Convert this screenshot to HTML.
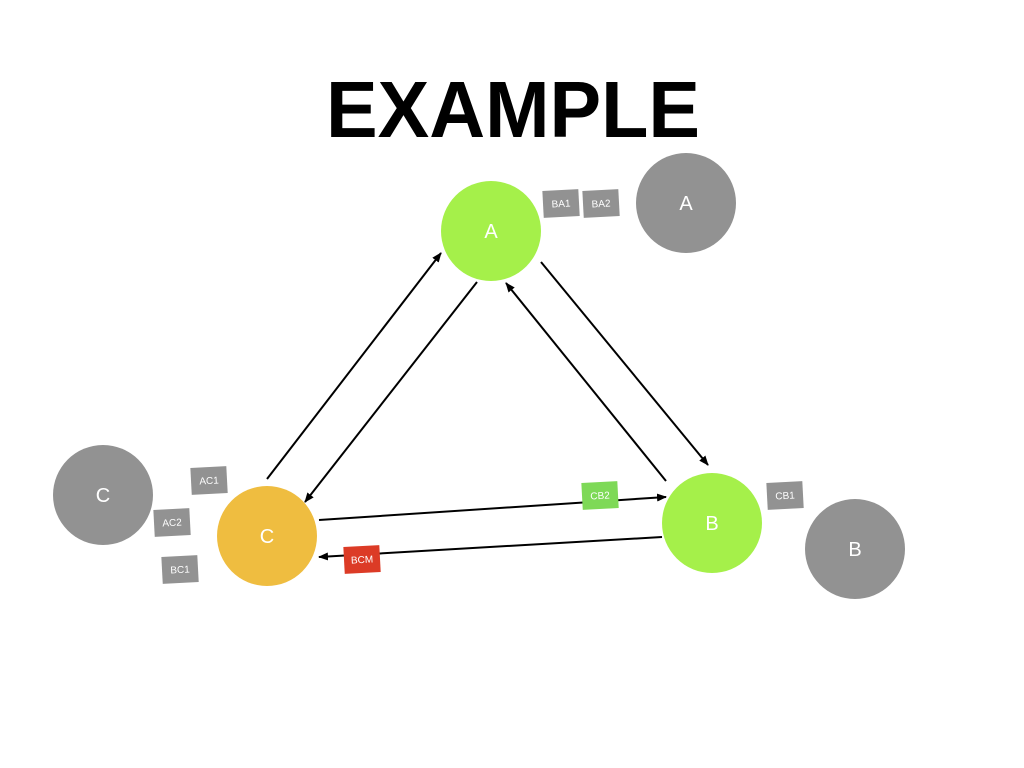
<!DOCTYPE html>
<html><head><meta charset="utf-8"><style>
html,body{margin:0;padding:0;background:#fff;}
svg{display:block;font-family:"Liberation Sans",Arial,sans-serif;}
</style></head><body>
<svg width="1024" height="768" viewBox="0 0 1024 768" xmlns="http://www.w3.org/2000/svg">
<defs><marker id="ah" markerWidth="10" markerHeight="8" refX="9" refY="4" orient="auto" markerUnits="userSpaceOnUse"><path d="M0,0 L10,4 L0,8 z" fill="#000"/></marker></defs>
<text x="513" y="137" text-anchor="middle" font-size="80" font-weight="bold" fill="#000" textLength="374" lengthAdjust="spacingAndGlyphs">EXAMPLE</text>
<g stroke="#000" stroke-width="2" marker-end="url(#ah)">
<line x1="267" y1="479" x2="441" y2="253"/>
<line x1="477" y1="282" x2="305" y2="502"/>
<line x1="541" y1="262" x2="708" y2="465"/>
<line x1="666" y1="481" x2="506" y2="283"/>
<line x1="319" y1="520" x2="666" y2="497"/>
<line x1="662" y1="537" x2="319" y2="557"/>
</g>
<g fill="#fff" text-anchor="middle" font-size="20">
<circle cx="491" cy="231" r="50" fill="#a5f04a"/><text x="491" y="238">A</text>
<circle cx="712" cy="523" r="50" fill="#a5f04a"/><text x="712" y="530">B</text>
<circle cx="267" cy="536" r="50" fill="#efbd40"/><text x="267" y="543">C</text>
<circle cx="686" cy="203" r="50" fill="#929292"/><text x="686" y="210">A</text>
<circle cx="855" cy="549" r="50" fill="#929292"/><text x="855" y="556">B</text>
<circle cx="103" cy="495" r="50" fill="#929292"/><text x="103" y="502">C</text>
</g>
<g font-size="10" fill="#fff" text-anchor="middle">
<g transform="translate(561,203) rotate(-3)"><rect x="-18" y="-13" width="36" height="27" fill="#929292"/><text y="4">BA1</text></g>
<g transform="translate(601,203) rotate(-3)"><rect x="-18" y="-13" width="36" height="27" fill="#929292"/><text y="4">BA2</text></g>
<g transform="translate(209,480) rotate(-3)"><rect x="-18" y="-13" width="36" height="27" fill="#929292"/><text y="4">AC1</text></g>
<g transform="translate(172,522) rotate(-3)"><rect x="-18" y="-13" width="36" height="27" fill="#929292"/><text y="4">AC2</text></g>
<g transform="translate(180,569) rotate(-3)"><rect x="-18" y="-13" width="36" height="27" fill="#929292"/><text y="4">BC1</text></g>
<g transform="translate(785,495) rotate(-3)"><rect x="-18" y="-13" width="36" height="27" fill="#929292"/><text y="4">CB1</text></g>
<g transform="translate(600,495) rotate(-3)"><rect x="-18" y="-13" width="36" height="27" fill="#7ed957"/><text y="4">CB2</text></g>
<g transform="translate(362,559) rotate(-3)"><rect x="-18" y="-13" width="36" height="27" fill="#dc3b26"/><text y="4">BCM</text></g>
</g>
</svg>
</body></html>
